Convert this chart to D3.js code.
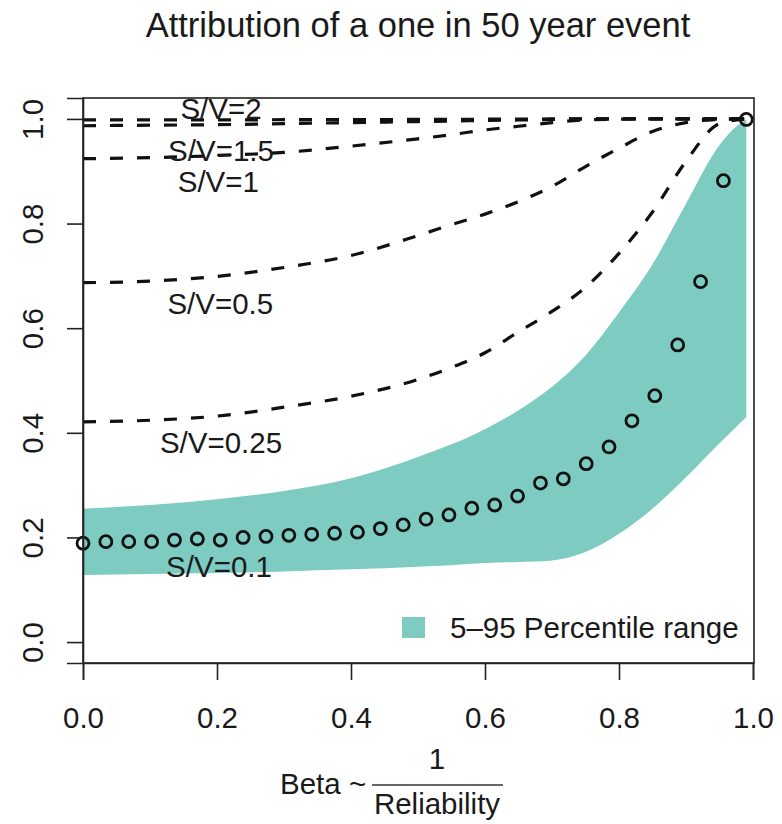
<!DOCTYPE html>
<html>
<head>
<meta charset="utf-8">
<script src="https://cdn.jsdelivr.net/npm/d3@7"></script>
<style>
  html, body { margin: 0; padding: 0; background: #fff; }
  svg { display: block; }
  text { font-family: "Liberation Sans", Arial, Helvetica, sans-serif; fill: #1a1a1a; }
</style>
</head>
<body>
<svg id="chart" width="782" height="824"></svg>
<script>
// ---------- data ----------
const titleText = "Attribution of a one in 50 year event";
const xTicks = [0, 0.2, 0.4, 0.6, 0.8, 1.0];
const yTicks = [0, 0.2, 0.4, 0.6, 0.8, 1.0];
const tickFormat = d3.format(".1f");

// median points (30 of them)
const pointX = d3.range(30).map(i => i * 0.99 / 29);
const pointY = [0.189, 0.192, 0.192, 0.192, 0.195, 0.197, 0.195, 0.200, 0.202, 0.204,
                0.206, 0.208, 0.210, 0.217, 0.224, 0.235, 0.243, 0.256, 0.262, 0.279,
                0.304, 0.312, 0.341, 0.373, 0.423, 0.471, 0.568, 0.689, 0.882, 0.999];

// 5-95 percentile band
const bandX     = [0, 0.1, 0.2, 0.3, 0.4, 0.45, 0.5, 0.55, 0.6, 0.65, 0.7, 0.75, 0.8, 0.85, 0.9, 0.95, 0.97, 0.99];
const bandUpper = [0.255, 0.262, 0.273, 0.289, 0.313, 0.332, 0.354, 0.378, 0.407, 0.443, 0.488, 0.548, 0.630, 0.722, 0.838, 0.950, 0.980, 0.999];
const bandLower = [0.128, 0.130, 0.132, 0.135, 0.139, 0.141, 0.144, 0.147, 0.151, 0.153, 0.156, 0.172, 0.207, 0.255, 0.315, 0.380, 0.405, 0.430];

// S/V dashed curves
const lineX   = [0, 0.1, 0.2, 0.3, 0.4, 0.5, 0.55, 0.6, 0.65, 0.7, 0.75, 0.8, 0.85, 0.9, 0.95, 0.99];
const sv025   = [0.421, 0.424, 0.432, 0.449, 0.470, 0.502, 0.525, 0.553, 0.593, 0.632, 0.678, 0.743, 0.822, 0.919, 0.991, 1.0];
const sv05    = [0.687, 0.690, 0.699, 0.716, 0.739, 0.777, 0.798, 0.818, 0.842, 0.871, 0.909, 0.944, 0.976, 0.993, 0.999, 1.0];
const sv1     = [0.924, 0.926, 0.930, 0.936, 0.948, 0.962, 0.970, 0.979, 0.986, 0.993, 0.998, 0.9995, 1.0, 1.0, 1.0, 1.0];
const sv15    = [0.987, 0.988, 0.989, 0.991, 0.993, 0.995, 0.996, 0.997, 0.998, 0.999, 1.0, 1.0, 1.0, 1.0, 1.0, 1.0];
const sv2     = [0.998, 0.998, 0.998, 0.9985, 0.9985, 0.999, 0.999, 0.9995, 0.9995, 1.0, 1.0, 1.0, 1.0, 1.0, 1.0, 1.0];
const svSeries = [sv025, sv05, sv1, sv15, sv2];

// S/V text labels (data coordinates)
const labelText = ["S/V=2", "S/V=1.5", "S/V=1", "S/V=0.5", "S/V=0.25", "S/V=0.1"];
const labelX    = [0.206, 0.206, 0.202, 0.205, 0.206, 0.203];
const labelY    = [1.020, 0.940, 0.880, 0.647, 0.381, 0.144];

const legendText = "5\u201395 Percentile range";
const bandColor = "#7ecbc2";

// ---------- layout ----------
const svg = d3.select("#chart");
const x = d3.scaleLinear().domain([0, 1]).range([83, 753]);
const y = d3.scaleLinear().domain([-0.04, 1.04]).range([663, 98]);
const FS = 29.5;

// band
const area = d3.area()
  .x(d => x(d[0])).y0(d => y(d[1])).y1(d => y(d[2]))
  .curve(d3.curveMonotoneX);
svg.append("path")
  .datum(bandX.map((v, i) => [v, bandLower[i], bandUpper[i]]))
  .attr("d", area)
  .attr("fill", bandColor);

// dashed lines
const line = d3.line().x(d => x(d[0])).y(d => y(d[1])).curve(d3.curveMonotoneX);
svSeries.forEach(s => {
  svg.append("path")
    .datum(lineX.map((v, i) => [v, s[i]]))
    .attr("d", line)
    .attr("fill", "none")
    .attr("stroke", "#111")
    .attr("stroke-width", 3.2)
    .attr("stroke-dasharray", "13,14");
});

// points
svg.append("g").selectAll("circle")
  .data(pointX.map((v, i) => [v, pointY[i]]))
  .join("circle")
  .attr("cx", d => x(d[0]))
  .attr("cy", d => y(d[1]))
  .attr("r", 6)
  .attr("fill", "none")
  .attr("stroke", "#111")
  .attr("stroke-width", 2.8);

// labels
svg.append("g").selectAll("text")
  .data(labelText.map((t, i) => [t, labelX[i], labelY[i]]))
  .join("text")
  .attr("x", d => x(d[1]))
  .attr("y", d => y(d[2]))
  .attr("dy", "0.36em")
  .attr("text-anchor", "middle")
  .attr("font-size", FS)
  .text(d => d[0]);

// box
svg.append("rect")
  .attr("x", x(0)).attr("y", y(1.04))
  .attr("width", x(1) - x(0) + 1).attr("height", y(-0.04) - y(1.04))
  .attr("fill", "none").attr("stroke", "#222").attr("stroke-width", 1.6);

// x axis
const xAxis = svg.append("g").attr("transform", `translate(0,${y(-0.04)})`)
  .call(d3.axisBottom(x).tickValues(xTicks).tickFormat(tickFormat).tickSize(17).tickPadding(27));
xAxis.select(".domain").attr("stroke", "#222").attr("stroke-width", 1.6);
xAxis.selectAll(".tick line").attr("stroke", "#222").attr("stroke-width", 1.6);
xAxis.selectAll(".tick text").attr("font-size", FS).attr("font-family", null).attr("fill", "#1a1a1a");

// y axis
const yAxis = svg.append("g").attr("transform", `translate(${x(0)},0)`)
  .call(d3.axisLeft(y).tickValues(yTicks).tickFormat(tickFormat).tickSize(16));
yAxis.select(".domain").attr("stroke", "#222").attr("stroke-width", 1.6);
yAxis.selectAll(".tick line").attr("stroke", "#222").attr("stroke-width", 1.6);
yAxis.selectAll(".tick text")
  .attr("font-size", FS).attr("font-family", null).attr("fill", "#1a1a1a")
  .attr("x", null).attr("dy", null)
  .attr("text-anchor", "middle")
  .attr("transform", "translate(-40,0) rotate(-90)");

// title
svg.append("text")
  .attr("x", (x(0) + x(1)) / 2).attr("y", 37)
  .attr("text-anchor", "middle")
  .attr("font-size", 34.5)
  .text(titleText);

// x axis label: Beta ~ 1/Reliability
svg.append("text").attr("x", 280).attr("y", 794).attr("font-size", FS).text("Beta ~");
svg.append("text").attr("x", 437).attr("y", 769).attr("text-anchor", "middle").attr("font-size", FS).text("1");
svg.append("line").attr("x1", 372).attr("x2", 503).attr("y1", 785).attr("y2", 785)
  .attr("stroke", "#333").attr("stroke-width", 1.6);
svg.append("text").attr("x", 437).attr("y", 814).attr("text-anchor", "middle").attr("font-size", FS).text("Reliability");

// legend
svg.append("rect").attr("x", 402).attr("y", 617).attr("width", 23).attr("height", 21).attr("fill", bandColor);
svg.append("text").attr("x", 450).attr("y", 638).attr("font-size", FS).text(legendText);
</script>
</body>
</html>
